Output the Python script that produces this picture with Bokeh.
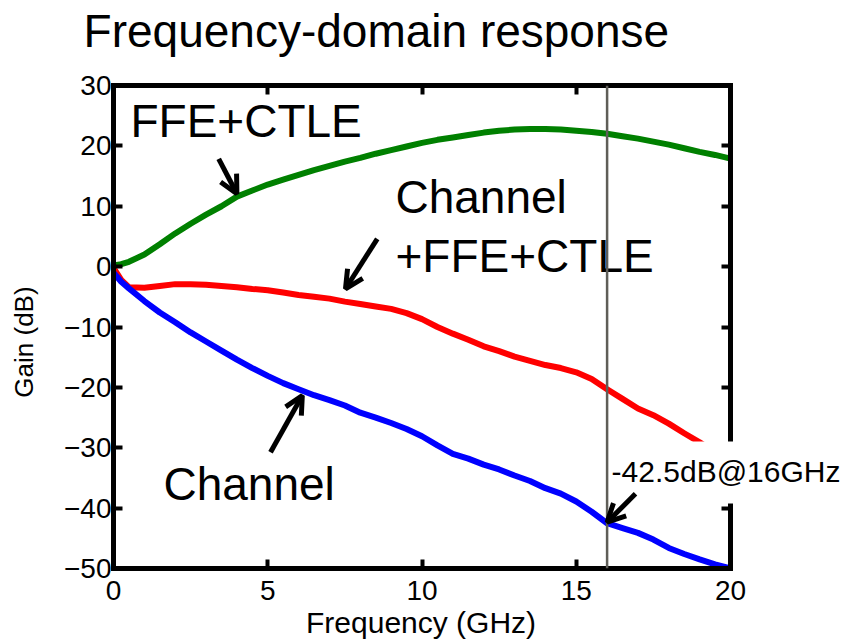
from bokeh.plotting import figure
from bokeh.models import (Range1d, FixedTicker, LinearAxis, Label, Arrow,
                          OpenHead, Span, ColumnDataSource)
from bokeh.embed import file_html
from bokeh.resources import INLINE

# ---------------- data ----------------
freq_ghz = [0, 0.25, 0.5, 1.0, 1.5, 2.0, 2.5, 3.0, 3.5, 4.0, 4.5, 5.0, 5.5, 6.0,
            6.5, 7.0, 7.5, 8.0, 8.5, 9.0, 9.5, 10.0, 10.5, 11.0, 11.5, 12.0,
            12.5, 13.0, 13.5, 14.0, 14.5, 15.0, 15.5, 16.0, 16.5, 17.0, 17.5,
            18.0, 18.5, 19.0, 19.5, 20.0]

gain_ffe_ctle = [0.2, 0.4, 0.8, 2.0, 3.7, 5.5, 7.1, 8.6, 10.0, 11.6, 12.6, 13.6,
                 14.4, 15.2, 16.0, 16.7, 17.4, 18.0, 18.7, 19.3, 19.9, 20.5,
                 21.0, 21.4, 21.8, 22.2, 22.5, 22.7, 22.8, 22.8, 22.7, 22.5,
                 22.3, 22.0, 21.6, 21.2, 20.7, 20.2, 19.6, 19.0, 18.5, 17.9]

gain_total = [-0.2, -2.2, -3.4, -3.5, -3.2, -2.9, -2.9, -3.0, -3.2, -3.4, -3.7,
              -3.9, -4.3, -4.7, -5.0, -5.3, -5.8, -6.2, -6.6, -7.0, -7.7, -8.7,
              -10.0, -11.1, -12.1, -13.2, -14.0, -14.9, -15.6, -16.3, -16.8,
              -17.5, -18.6, -20.3, -21.9, -23.5, -24.6, -26.0, -27.6, -29.1,
              -30.8, -32.5]

gain_channel = [-1.0, -2.5, -3.6, -5.7, -7.6, -9.2, -10.9, -12.4, -13.9, -15.4,
                -16.8, -18.1, -19.3, -20.3, -21.3, -22.1, -23.0, -24.2, -25.0,
                -25.9, -26.9, -28.1, -29.6, -31.0, -31.8, -32.8, -33.6, -34.6,
                -35.5, -36.7, -37.6, -38.9, -40.6, -42.5, -43.3, -44.1, -45.2,
                -46.6, -47.6, -48.5, -49.3, -50.0]

x_ticks = [0, 5, 10, 15, 20]
y_ticks = [-50, -40, -30, -20, -10, 0, 10, 20, 30]
y_tick_labels = ["\u221250", "\u221240", "\u221230", "\u221220", "\u221210",
                 "0", "10", "20", "30"]
x_min, x_max = 0, 20
y_min, y_max = -50, 30
marker_freq = 16

FONT = "Liberation Sans"

# frame spans to the right window edge so the marker label is not clipped;
# the visible box (axes) is limited to 0..20 GHz
x_view_max = x_max * 745.0 / 617.0

# ---------------- figure ----------------
p = figure(width=858, height=641, output_backend="svg", toolbar_location=None,
           x_range=Range1d(x_min, x_view_max), y_range=Range1d(y_min, y_max),
           min_border_left=113, min_border_right=0,
           min_border_top=85, min_border_bottom=73)
p.grid.visible = False
p.outline_line_color = None
p.background_fill_color = "white"
p.border_fill_color = "white"

src = ColumnDataSource(dict(f=freq_ghz, g=gain_ffe_ctle, t=gain_total,
                            c=gain_channel))
p.line("f", "g", source=src, line_color="#008000", line_width=6,
       line_join="round")
p.line("f", "t", source=src, line_color="#ff0000", line_width=6,
       line_join="round")
p.line("f", "c", source=src, line_color="#0000ff", line_width=6,
       line_join="round")


def style_axis(ax):
    ax.axis_line_width = 5
    ax.axis_line_color = "black"
    ax.axis_line_cap = "square"
    ax.major_tick_in = 9
    ax.major_tick_out = 0
    ax.major_tick_line_width = 4
    ax.minor_tick_line_color = None
    ax.major_label_text_font = FONT
    ax.major_label_text_color = "black"
    ax.major_label_text_font_size = "28px"
    ax.major_label_standoff = 4


xa = p.xaxis[0]
ya = p.yaxis[0]
xa.ticker = FixedTicker(ticks=x_ticks)
ya.ticker = FixedTicker(ticks=y_ticks)
xa.bounds = (x_min, x_max)
ya.major_label_overrides = {t: s for t, s in zip(y_ticks, y_tick_labels)}
style_axis(xa)
style_axis(ya)
xa.major_label_standoff = 12
ya.major_label_standoff = 2

top_ax = LinearAxis(ticker=FixedTicker(ticks=x_ticks), bounds=(x_min, x_max))
style_axis(top_ax)
top_ax.major_label_overrides = {t: "" for t in x_ticks}
p.add_layout(top_ax, "above")

right_ax = LinearAxis(ticker=FixedTicker(ticks=y_ticks), fixed_location=x_max)
style_axis(right_ax)
right_ax.major_label_overrides = {t: "" for t in y_ticks}
p.add_layout(right_ax, "right")

# ---------------- titles / axis labels (side panels: not clipped) --------
p.add_layout(Label(x=-0.97, y=39.0, text="Frequency-domain response",
                   text_font=FONT, text_font_size="46px",
                   text_baseline="alphabetic", text_color="black"), "above")
p.add_layout(Label(x=9.97, y=-59.0, text="Frequency (GHz)", text_font=FONT,
                   text_font_size="30px", text_align="center",
                   text_baseline="alphabetic", text_color="black"), "below")
p.add_layout(Label(x=-2.90, y=-21.7, text="Gain (dB)", text_font=FONT,
                   text_font_size="26px", text_align="left", angle=1.5708,
                   text_baseline="alphabetic", text_color="black"), "left")

# ---------------- annotations ----------------
ann_texts = ["FFE+CTLE", "Channel", "+FFE+CTLE", "Channel"]
ann_x = [0.55, 9.14, 9.14, 1.62]
ann_y = [24.1, 11.5, 1.76, -36.0]
for t, x, y in zip(ann_texts, ann_x, ann_y):
    p.add_layout(Label(x=x, y=y, text=t, text_font=FONT,
                       text_font_size="46px", text_baseline="alphabetic",
                       text_color="black"))

marker_label = Label(x=16.08, y=-34.1, text="-42.5dB@16GHz", text_font=FONT,
                     text_font_size="30px", text_baseline="alphabetic",
                     text_color="black", background_fill_color="white",
                     padding=dict(left=2, right=8, top=13, bottom=16))
p.add_layout(marker_label)

p.add_layout(Span(location=marker_freq, dimension="height",
                  line_color="#5f5e58", line_width=2.5))

arrow_start_x = [3.41, 8.55, 5.09, 16.92]
arrow_start_y = [17.86, 4.61, -30.73, -37.63]
arrow_end_x = [4.00, 7.52, 6.12, 16.0]
arrow_end_y = [12.07, -3.67, -21.35, -42.33]
for xs, ys, xe, ye in zip(arrow_start_x, arrow_start_y, arrow_end_x,
                          arrow_end_y):
    p.add_layout(Arrow(end=OpenHead(size=18, line_width=5, line_color="black"),
                       x_start=xs, y_start=ys, x_end=xe, y_end=ye,
                       line_width=5, line_color="black"))

open("out.html", "w").write(file_html(p, INLINE))
